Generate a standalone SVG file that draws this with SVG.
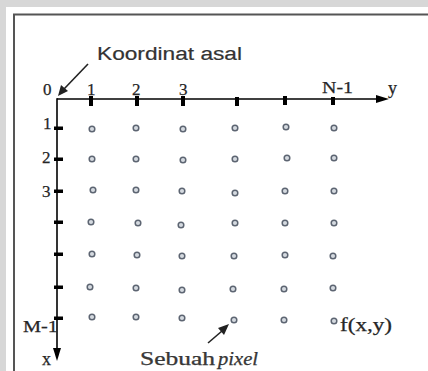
<svg xmlns="http://www.w3.org/2000/svg" width="428" height="371" viewBox="0 0 428 371">
<defs>
<style>
.serif{font-family:"Liberation Serif","Times New Roman",serif;font-size:17px;fill:#262626;stroke:#262626;stroke-width:0.25}
.sans{font-family:"Liberation Sans",Arial,sans-serif;font-size:18px;fill:#333;stroke:#333;stroke-width:0.2}
.axis{stroke:#000;stroke-width:1.6;fill:none}
.tick{fill:#000}
.px{fill:#d5dae0;stroke:#5d6572;stroke-width:1.5}
.ann{stroke:#222;stroke-width:1.6;fill:none}
</style>
</defs>
<rect x="0" y="0" width="428" height="371" fill="#d7d7d7"/>
<rect x="6" y="7" width="422" height="364" fill="#ffffff"/>
<path d="M14 371 V14.5 H428" stroke="#555" stroke-width="2" fill="none"/>

<g id="connectors">
<g id="axis-y">
<line class="axis" x1="57" y1="99" x2="378" y2="99"/>
<polygon points="389,99 376,95 376,103" fill="#000"/>
</g>
<g id="axis-x">
<line class="axis" x1="57" y1="98.2" x2="57" y2="350"/>
<polygon points="57,361 53,348 61,348" fill="#000"/>
</g>
<g id="arrow-origin">
<line class="ann" x1="88" y1="64" x2="64" y2="89"/>
<polygon points="58,96 61,85 68,91" fill="#222"/>
</g>
<g id="arrow-pixel">
<line class="ann" x1="208" y1="343" x2="222" y2="331"/>
<polygon points="229,324 218,328 224,335" fill="#222"/>
</g>
</g>

<g id="ticks">
<rect class="tick" x="89" y="96" width="4" height="10"/>
<rect class="tick" x="135" y="96" width="4" height="10"/>
<rect class="tick" x="181" y="96" width="4" height="10"/>
<rect class="tick" x="235" y="97" width="4" height="9"/>
<rect class="tick" x="283" y="96" width="4" height="9"/>
<rect class="tick" x="331" y="97" width="4" height="8"/>
<rect class="tick" x="54" y="126.5" width="9" height="3.5"/>
<rect class="tick" x="54" y="157.5" width="9" height="3.5"/>
<rect class="tick" x="54" y="189.5" width="9" height="3.5"/>
<rect class="tick" x="54" y="220.5" width="9" height="3.5"/>
<rect class="tick" x="54" y="252.5" width="9" height="3.5"/>
<rect class="tick" x="54" y="285.5" width="9" height="3.5"/>
<rect class="tick" x="54" y="316.5" width="9" height="3.5"/>
</g>

<g id="labels">
<text class="serif" x="43" y="95">0</text>
<text class="serif" x="87" y="95">1</text>
<text class="serif" x="132" y="95">2</text>
<text class="serif" x="179" y="95">3</text>
<text class="serif" x="322" y="93" textLength="31" lengthAdjust="spacingAndGlyphs">N-1</text>
<text class="serif" x="388" y="94" style="font-size:18px">y</text>
<text class="serif" x="43" y="129">1</text>
<text class="serif" x="42" y="163">2</text>
<text class="serif" x="42" y="197">3</text>
<text class="serif" x="23" y="332" textLength="35" lengthAdjust="spacingAndGlyphs">M-1</text>
<text class="serif" x="42" y="365" style="font-size:18px">x</text>
</g>

<g id="label-koordinat">
<text class="sans" x="97" y="60" textLength="145" lengthAdjust="spacingAndGlyphs">Koordinat asal</text>
</g>

<g id="label-pixel">
<text class="serif" x="140" y="365" style="font-size:18px;fill:#3a3a3a" textLength="75" lengthAdjust="spacingAndGlyphs">Sebuah</text>
<text class="serif" x="218" y="365" style="font-size:18px;font-style:italic;fill:#3a3a3a" textLength="40" lengthAdjust="spacingAndGlyphs">pixel</text>
</g>

<g id="label-fxy">
<text class="serif" x="340" y="331" style="font-size:18px" textLength="52" lengthAdjust="spacingAndGlyphs">f(x,y)</text>
</g>

<g id="pixels">
<circle class="px" cx="92" cy="129" r="2.8"/>
<circle class="px" cx="136" cy="128" r="2.8"/>
<circle class="px" cx="183" cy="129" r="2.8"/>
<circle class="px" cx="235" cy="128" r="2.8"/>
<circle class="px" cx="286" cy="127" r="2.8"/>
<circle class="px" cx="334" cy="128" r="2.8"/>

<circle class="px" cx="92" cy="159" r="2.8"/>
<circle class="px" cx="136" cy="159" r="2.8"/>
<circle class="px" cx="183" cy="160" r="2.8"/>
<circle class="px" cx="235" cy="159" r="2.8"/>
<circle class="px" cx="287" cy="158" r="2.8"/>
<circle class="px" cx="334" cy="158" r="2.8"/>

<circle class="px" cx="93" cy="190" r="2.8"/>
<circle class="px" cx="136" cy="190" r="2.8"/>
<circle class="px" cx="182" cy="191" r="2.8"/>
<circle class="px" cx="235" cy="193" r="2.8"/>
<circle class="px" cx="285" cy="191" r="2.8"/>
<circle class="px" cx="334" cy="191" r="2.8"/>

<circle class="px" cx="91" cy="222" r="2.8"/>
<circle class="px" cx="138" cy="223" r="2.8"/>
<circle class="px" cx="181" cy="225" r="2.8"/>
<circle class="px" cx="235" cy="223" r="2.8"/>
<circle class="px" cx="285" cy="223" r="2.8"/>
<circle class="px" cx="334" cy="223" r="2.8"/>

<circle class="px" cx="92" cy="254" r="2.8"/>
<circle class="px" cx="137" cy="255" r="2.8"/>
<circle class="px" cx="182" cy="256" r="2.8"/>
<circle class="px" cx="234" cy="256" r="2.8"/>
<circle class="px" cx="285" cy="255" r="2.8"/>
<circle class="px" cx="333" cy="256" r="2.8"/>

<circle class="px" cx="90" cy="287" r="2.8"/>
<circle class="px" cx="136" cy="288" r="2.8"/>
<circle class="px" cx="182" cy="290" r="2.8"/>
<circle class="px" cx="233" cy="289" r="2.8"/>
<circle class="px" cx="284" cy="289" r="2.8"/>
<circle class="px" cx="333" cy="288" r="2.8"/>

<circle class="px" cx="92" cy="317" r="2.8"/>
<circle class="px" cx="136" cy="317" r="2.8"/>
<circle class="px" cx="182" cy="318" r="2.8"/>
<circle class="px" cx="234" cy="320" r="2.8"/>
<circle class="px" cx="284" cy="320" r="2.8"/>
<circle class="px" cx="334" cy="321" r="2.8"/>
</g>
</svg>
